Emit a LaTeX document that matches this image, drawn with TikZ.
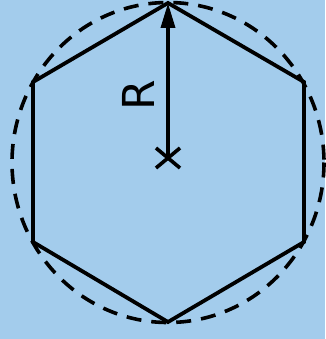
\documentclass[tikz,border=0pt]{standalone}
\usepackage{fontspec}
\setmainfont{DejaVu Sans}
\usetikzlibrary{arrows.meta}
\definecolor{bg}{RGB}{163,204,236}
\begin{document}
\begin{tikzpicture}[x=1pt,y=-1pt,
  edge/.style={line width=3.8pt,line join=miter},
  dashring/.style={line width=3.6pt,dash pattern=on 15pt off 10pt},
  radius arrow/.style={line width=3.6pt,-{Triangle[length=25pt,width=14pt]}},
  marker/.style={line width=3.6pt}]
\fill[bg] (0,0) rectangle (325,339);
\useasboundingbox (0,0) rectangle (325,339);
\coordinate (c) at (168,161);
\coordinate (v1) at (168,3);
\coordinate (v2) at (304,82);
\coordinate (v3) at (304,242);
\coordinate (v4) at (168,322);
\coordinate (v5) at (33,242);
\coordinate (v6) at (33,82);
\draw[dashring] (168,162.5) ellipse [x radius=156, y radius=160];
\draw[edge] (v1) -- (v2) -- (v3) -- (v4) -- (v5) -- (v6) -- cycle;
\coordinate (m) at (168,158);
\draw[radius arrow] (m) -- (v1);
\draw[marker] (156,148) -- (180,168) (156,168) -- (180,148);
\node[rotate=90,font=\fontsize{44}{44}\selectfont,inner sep=0pt] (R) at (138,95) {R};
\end{tikzpicture}
\end{document}
